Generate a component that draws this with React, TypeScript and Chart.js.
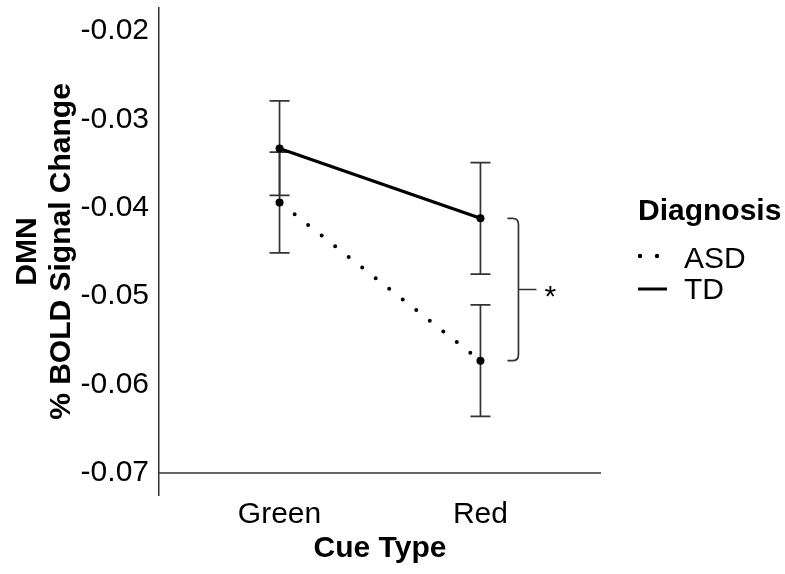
import React, { useEffect, useRef } from "react";
import { Chart, registerables } from "chart.js";

Chart.register(...registerables);

// ---- data ----
const categories = ["Green", "Red"];
const yTickValues = [-0.07, -0.06, -0.05, -0.04, -0.03, -0.02];
const groups = ["ASD", "TD"];
const asdMean = [-0.0394, -0.0573];
const asdLow = [-0.0451, -0.0636];
const asdHigh = [-0.0337, -0.051];
const tdMean = [-0.0333, -0.0412];
const tdLow = [-0.0386, -0.0475];
const tdHigh = [-0.0279, -0.0349];
const legendTitle = "Diagnosis";
const yTitle = ["DMN", "% BOLD Signal Change"];
const xTitle = "Cue Type";
const sigLabel = "*";

const FONT = "'Liberation Sans', Arial, Helvetica, sans-serif";
const INK = "#000000";
const AXIS = "#333333";

const errorBarPlugin = {
  id: "errorBars",
  beforeDatasetsDraw(chart: any) {
    const { ctx } = chart;
    const xs = chart.scales.x;
    const ys = chart.scales.y;
    ctx.save();
    ctx.strokeStyle = AXIS;
    ctx.lineWidth = 1.7;
    chart.data.datasets.forEach((ds: any) => {
      ds.data.forEach((pt: any, i: number) => {
        const px = xs.getPixelForValue(pt.x);
        const yl = ys.getPixelForValue(ds.errLow[i]);
        const yh = ys.getPixelForValue(ds.errHigh[i]);
        ctx.beginPath();
        ctx.moveTo(px, yl);
        ctx.lineTo(px, yh);
        ctx.moveTo(px - 10, yl);
        ctx.lineTo(px + 10, yl);
        ctx.moveTo(px - 10, yh);
        ctx.lineTo(px + 10, yh);
        ctx.stroke();
      });
    });
    ctx.restore();
  },
};

const decorPlugin = {
  id: "decor",
  afterDraw(chart: any) {
    const { ctx, chartArea } = chart;
    const xs = chart.scales.x;
    const ys = chart.scales.y;
    ctx.save();
    // x axis line at the lowest tick
    const yAxisLine = ys.getPixelForValue(yTickValues[0]);
    ctx.strokeStyle = AXIS;
    ctx.lineWidth = 1.5;
    ctx.beginPath();
    ctx.moveTo(chartArea.left, yAxisLine);
    ctx.lineTo(chartArea.right, yAxisLine);
    ctx.stroke();

    // significance bracket between the Red means
    const xr = xs.getPixelForValue(2);
    const yTop = ys.getPixelForValue(tdMean[1]);
    const yBot = ys.getPixelForValue(asdMean[1]);
    const ym = (yTop + yBot) / 2;
    const x0 = xr + 27;
    const xv = xr + 38;
    const r = 6;
    ctx.strokeStyle = AXIS;
    ctx.lineWidth = 1.7;
    ctx.beginPath();
    ctx.moveTo(x0, yTop);
    ctx.lineTo(xv - r, yTop);
    ctx.quadraticCurveTo(xv, yTop, xv, yTop + r);
    ctx.lineTo(xv, yBot - r);
    ctx.quadraticCurveTo(xv, yBot, xv - r, yBot);
    ctx.lineTo(x0, yBot);
    ctx.moveTo(xv, ym);
    ctx.lineTo(xv + 18, ym);
    ctx.stroke();
    ctx.fillStyle = INK;
    ctx.font = `30px ${FONT}`;
    ctx.textAlign = "left";
    ctx.textBaseline = "alphabetic";
    ctx.fillText(sigLabel, xv + 26, ym + 16);

    // legend
    const lx = chartArea.right + 37;
    ctx.font = `bold 30px ${FONT}`;
    ctx.fillText(legendTitle, lx, 220);
    ctx.font = `30px ${FONT}`;
    ctx.fillText(groups[0], lx + 46, 268);
    ctx.fillText(groups[1], lx + 46, 299);
    // ASD sample (dots)
    ctx.fillStyle = INK;
    [lx + 2, lx + 19].forEach((dx) => {
      ctx.beginPath();
      ctx.arc(dx, 256, 2.2, 0, Math.PI * 2);
      ctx.fill();
    });
    // TD sample (solid)
    ctx.strokeStyle = INK;
    ctx.lineWidth = 3;
    ctx.beginPath();
    ctx.moveTo(lx, 289);
    ctx.lineTo(lx + 29, 289);
    ctx.stroke();
    ctx.restore();
  },
};

export default function App() {
  const ref = useRef<HTMLCanvasElement | null>(null);

  useEffect(() => {
    if (!ref.current) return;
    const mk = (vals: number[]) => vals.map((v, i) => ({ x: i + 1, y: v }));
    const chart = new Chart(ref.current, {
      type: "line",
      data: {
        datasets: [
          {
            label: groups[0],
            data: mk(asdMean),
            errLow: asdLow,
            errHigh: asdHigh,
            borderColor: INK,
            backgroundColor: INK,
            borderWidth: 4,
            borderDash: [0, 17.2],
            borderDashOffset: 15.2,
            borderCapStyle: "round",
            pointRadius: 4,
            pointBorderWidth: 0,
            pointBackgroundColor: INK,
            fill: false,
          } as any,
          {
            label: groups[1],
            data: mk(tdMean),
            errLow: tdLow,
            errHigh: tdHigh,
            borderColor: INK,
            backgroundColor: INK,
            borderWidth: 3.2,
            pointRadius: 4,
            pointBorderWidth: 0,
            pointBackgroundColor: INK,
            fill: false,
          } as any,
        ],
      },
      options: {
        responsive: false,
        animation: false,
        devicePixelRatio: 1,
        layout: { padding: { left: 10, right: 184, top: 8, bottom: 7 } },
        plugins: {
          legend: { display: false },
          tooltip: { enabled: false },
        },
        scales: {
          x: {
            type: "linear",
            min: 0.4,
            max: 2.6,
            afterBuildTicks: (s: any) => {
              s.ticks = categories.map((_, i) => ({ value: i + 1 }));
            },
            afterFit: (s: any) => {
              s.height = 72;
              s.paddingLeft = 0;
              s.paddingRight = 0;
            },
            ticks: {
              padding: 2,
              color: INK,
              font: { family: FONT, size: 30 },
              callback: (v: any) => categories[Math.round(Number(v)) - 1] ?? "",
              maxRotation: 0,
            },
            grid: { display: false, drawTicks: false, tickLength: 0 },
            border: { display: false },
            title: {
              display: true,
              text: xTitle,
              color: INK,
              font: { family: FONT, size: 30, weight: "bold", lineHeight: 1.2 },
              padding: { top: 0, bottom: 0 },
            },
          },
          y: {
            type: "linear",
            min: -0.0725,
            max: -0.0174,
            afterBuildTicks: (s: any) => {
              s.ticks = yTickValues.map((v) => ({ value: v }));
            },
            afterFit: (s: any) => {
              s.width = 149;
              s.paddingTop = 0;
              s.paddingBottom = 0;
            },
            ticks: {
              padding: 10,
              color: INK,
              font: { family: FONT, size: 30 },
              callback: (v: any) => Number(v).toFixed(2),
            },
            grid: { display: false, drawTicks: false, tickLength: 0 },
            border: { display: true, color: AXIS, width: 1.5 },
            title: {
              display: true,
              text: yTitle,
              color: INK,
              font: { family: FONT, size: 30, weight: "bold", lineHeight: 1.15 },
              padding: { top: 0, bottom: 2 },
            },
          },
        },
      },
      plugins: [errorBarPlugin, decorPlugin],
    } as any);
    return () => chart.destroy();
  }, []);

  return (
    <div
      style={{
        position: "fixed",
        left: 0,
        top: 0,
        width: 785,
        height: 574,
        background: "#ffffff",
      }}
    >
      <canvas ref={ref} width={785} height={574} style={{ display: "block" }} />
    </div>
  );
}
